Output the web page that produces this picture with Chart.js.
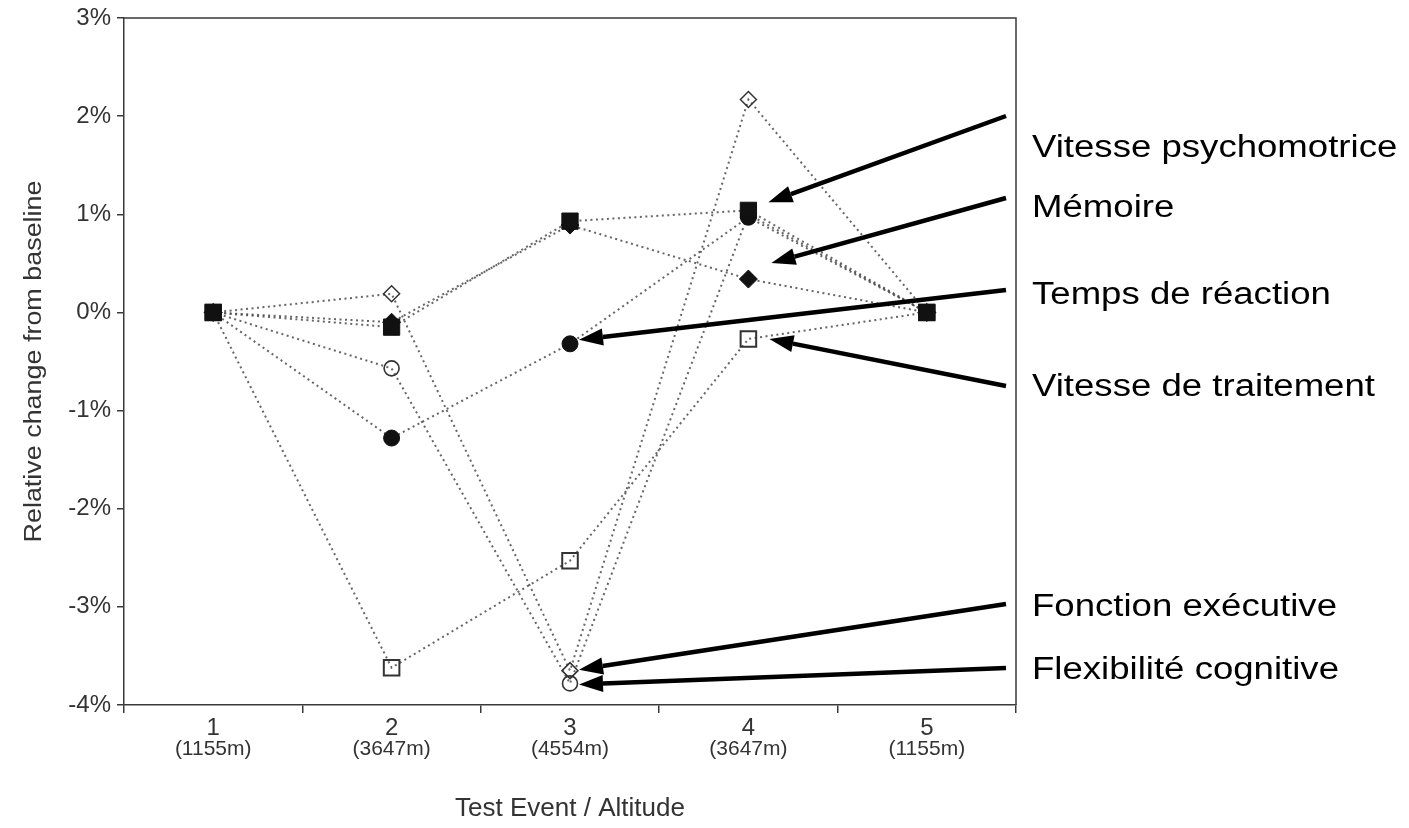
<!DOCTYPE html>
<html>
<head>
<meta charset="utf-8">
<script src="https://cdn.jsdelivr.net/npm/chart.js@4/dist/chart.umd.min.js"></script>
<style>
    html, body { margin: 0; padding: 0; background: #fff; }
    #wrap { width: 1409px; height: 828px; }
</style>
</head>
<body>
<div id="wrap"><canvas id="chart" width="1409" height="828"></canvas></div>
<script>
const events = ['1', '2', '3', '4', '5'];
const altitudes = ['(1155m)', '(3647m)', '(4554m)', '(3647m)', '(1155m)'];

const vitessePsychomotrice = [0, -0.15, 0.93, 1.04, 0];
const memoire = [0, -0.10, 0.89, 0.34, 0];
const tempsReaction = [0, -1.28, -0.32, 0.97, 0];
const vitesseTraitement = [0, -3.62, -2.53, -0.27, 0];
const fonctionExecutive = [0, 0.19, -3.65, 2.17, 0];
const flexibiliteCognitive = [0, -0.57, -3.78, 1.00, 0];

const yTicks = [-4, -3, -2, -1, 0, 1, 2, 3];

// callouts on the right: text, dataset index, point index
const callouts = [
    ['Vitesse psychomotrice', 0, 3],
    ['Mémoire', 1, 3],
    ['Temps de réaction', 2, 2],
    ['Vitesse de traitement', 3, 3],
    ['Fonction exécutive', 4, 2],
    ['Flexibilité cognitive', 5, 2],
];
// where each callout sits and how its arrow ends near the point
const calloutLayout = [
    { textY: 148, tailY: 116, dx: 20, dy: -8 },
    { textY: 208, tailY: 198, dx: 23, dy: -16 },
    { textY: 295, tailY: 290, dx: 9, dy: -4 },
    { textY: 387, tailY: 386, dx: 21, dy: 0 },
    { textY: 607, tailY: 604, dx: 9, dy: -1 },
    { textY: 670, tailY: 668, dx: 9, dy: 1 },
];

const FONT = '"Liberation Sans", Arial, Helvetica, sans-serif';
const AXIS = '#3a3a3a';

function series(label, data, style, radius, filled, pointBorder) {
    return {
        label,
        data,
        borderColor: 'rgba(75,75,75,0.85)',
        borderWidth: 2,
        borderDash: [2, 3.5],
        tension: 0,
        fill: false,
        pointStyle: style,
        pointRadius: radius,
        pointBackgroundColor: filled ? '#111' : 'rgba(0,0,0,0)',
        pointBorderColor: filled ? '#111' : '#333',
        pointBorderWidth: pointBorder,
    };
}

const frame = {
    id: 'frame',
    afterDraw(chart) {
        const { ctx, chartArea: a } = chart;
        ctx.save();
        ctx.strokeStyle = AXIS;
        ctx.lineWidth = 1.5;
        ctx.beginPath();
        ctx.moveTo(a.left, a.top);
        ctx.lineTo(a.right, a.top);
        ctx.lineTo(a.right, a.bottom);
        ctx.stroke();

        // y axis title, rotated
        ctx.fillStyle = '#333';
        ctx.font = '23px ' + FONT;
        ctx.textAlign = 'center';
        ctx.textBaseline = 'middle';
        ctx.translate(35, (a.top + a.bottom) / 2);
        ctx.rotate(-Math.PI / 2);
        ctx.scale(1.17, 1);
        ctx.fillText('Relative change from baseline', 0, 0);
        ctx.restore();
    }
};

const arrows = {
    id: 'arrows',
    afterDraw(chart) {
        const { ctx } = chart;
        const tailX = 1006;
        callouts.forEach(([text, di, pi], i) => {
            const lay = calloutLayout[i];
            const pt = chart.getDatasetMeta(di).data[pi];
            const tipX = pt.x + lay.dx;
            const tipY = pt.y + lay.dy;
            const ang = Math.atan2(tipY - lay.tailY, tipX - tailX);
            const headLen = 24, headW = 8.5;
            const baseX = tipX - Math.cos(ang) * headLen;
            const baseY = tipY - Math.sin(ang) * headLen;

            ctx.save();
            ctx.strokeStyle = '#000';
            ctx.fillStyle = '#000';
            ctx.lineWidth = 4.5;
            ctx.beginPath();
            ctx.moveTo(tailX, lay.tailY);
            ctx.lineTo(baseX, baseY);
            ctx.stroke();
            ctx.beginPath();
            ctx.moveTo(tipX, tipY);
            ctx.lineTo(baseX + Math.sin(ang) * headW, baseY - Math.cos(ang) * headW);
            ctx.lineTo(baseX - Math.sin(ang) * headW, baseY + Math.cos(ang) * headW);
            ctx.closePath();
            ctx.fill();

            ctx.font = '31px ' + FONT;
            ctx.textAlign = 'left';
            ctx.textBaseline = 'middle';
            ctx.translate(1032, lay.textY);
            ctx.scale(1.18, 1);
            ctx.fillText(text, 0, 0);
            ctx.restore();
        });
    }
};

Chart.defaults.font.family = FONT;
Chart.defaults.color = '#333';

new Chart(document.getElementById('chart'), {
    type: 'line',
    data: {
        labels: events,
        datasets: [
            series('Vitesse psychomotrice', vitessePsychomotrice, 'rect', 11.5, true, 1),
            series('Mémoire', memoire, 'rectRot', 9, true, 1),
            series('Temps de réaction', tempsReaction, 'circle', 8, true, 1),
            series('Vitesse de traitement', vitesseTraitement, 'rect', 11, false, 2),
            series('Fonction exécutive', fonctionExecutive, 'rectRot', 8, false, 1.5),
            series('Flexibilité cognitive', flexibiliteCognitive, 'circle', 7.5, false, 1.6),
        ]
    },
    options: {
        responsive: false,
        animation: false,
        devicePixelRatio: 1,
        layout: { padding: { top: 18, right: 393, left: 0, bottom: 0 } },
        plugins: { legend: { display: false }, tooltip: { enabled: false } },
        scales: {
            x: {
                type: 'category',
                position: 'bottom',
                offset: true,
                weight: 0,
                grid: { offset: true, drawOnChartArea: false, tickLength: 8, color: AXIS, lineWidth: 1.5 },
                border: { color: AXIS, width: 1.5 },
                ticks: { font: { size: 24 }, color: '#333', padding: 1, maxRotation: 0 },
                afterFit: s => { s.height = 32; }
            },
            alt: {
                type: 'category',
                position: 'bottom',
                labels: altitudes,
                offset: true,
                weight: 1,
                grid: { display: false, drawTicks: false },
                border: { display: false },
                ticks: { font: { size: 21 }, color: '#333', padding: 0, maxRotation: 0 },
                title: { display: true, text: 'Test Event / Altitude', font: { size: 26 }, color: '#333', padding: { top: 4, bottom: 4 } },
                afterFit: s => { s.height = 91; }
            },
            y: {
                min: -4,
                max: 3,
                afterBuildTicks: s => { s.ticks = yTicks.map(v => ({ value: v })); },
                grid: { drawOnChartArea: false, tickLength: 7, color: AXIS, lineWidth: 1.5 },
                border: { color: AXIS, width: 1.5 },
                ticks: { font: { size: 24 }, color: '#333', padding: 6, callback: v => v + '%' },
                afterFit: s => { s.width = 124; s.paddingTop = 0; s.paddingBottom = 0; }
            }
        }
    },
    plugins: [frame, arrows]
});
</script>
</body>
</html>
